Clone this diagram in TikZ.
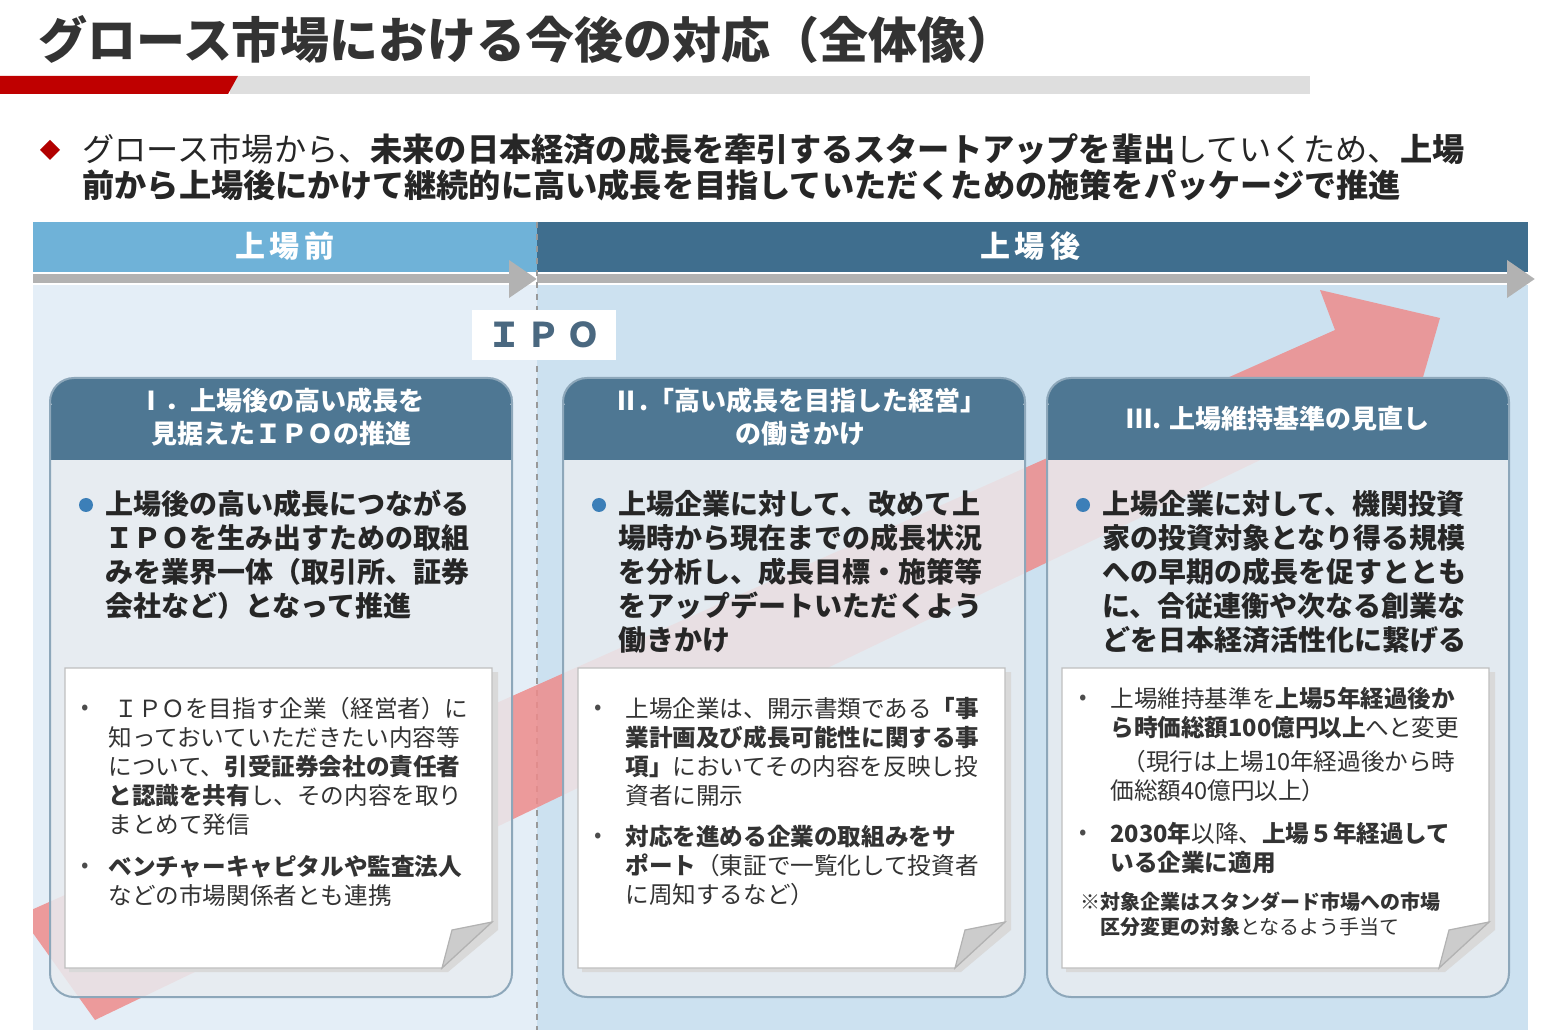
\documentclass[tikz,border=0pt]{standalone}
\usepackage{fontspec}
\setmainfont{Noto Sans CJK JP}
\usetikzlibrary{arrows.meta}
\definecolor{hdrL}{HTML}{6FB2D8}
\definecolor{hdrR}{HTML}{3F6E8E}
\definecolor{bgL}{HTML}{E4EEF7}
\definecolor{bgR}{HTML}{CCE1F0}
\definecolor{cardH}{HTML}{4E7793}
\definecolor{cardB}{HTML}{E8ECF0}
\definecolor{cardE}{HTML}{8DA7BA}
\definecolor{redA}{HTML}{EE8C8C}
\definecolor{titleC}{HTML}{333333}
\definecolor{ipoC}{HTML}{4A6880}
\definecolor{bulC}{HTML}{3C7FB8}
\tikzset{
 txt/.style={anchor=north west,inner sep=0pt,align=left,text=black!85},
 cardtxt/.style={txt,font=\fontsize{14pt}{17pt}\selectfont\bfseries},
 notetxt/.style={txt,font=\fontsize{11.8pt}{14.5pt}\selectfont,text=black!80},
 headtxt/.style={text=white,font=\fontsize{13pt}{16.5pt}\selectfont\bfseries,align=center},
 note/.style={fill=white,draw=black!25,line width=0.6pt},
 fold/.style={fill=black!20,draw=black!30,line width=0.6pt},
 dot/.style={circle,fill=bulC,inner sep=0pt,minimum size=7pt},
}
\begin{document}
\begin{tikzpicture}[x=0.5pt,y=-0.5pt]
\useasboundingbox (0,0) rectangle (1562,1036);
\fill[white] (0,0) rectangle (1562,1036);
% title
\node[anchor=west,inner sep=0pt,text=titleC,font=\fontsize{24.5pt}{26pt}\selectfont\bfseries] (title) at (38,40) {グロース市場における今後の対応（全体像）};
\fill[black!13] (230,76) rectangle (1310,94);
\fill[red!75!black] (0,76) -- (238,76) -- (228,94) -- (0,94) -- cycle;
% subtitle
\fill[red!70!black] (40,150) -- (50,140) -- (60,150) -- (50,160) -- cycle;
\node[txt,font=\fontsize{16.1pt}{18pt}\selectfont,text=black!85] (sub) at (82,133) {グロース市場から、\textbf{未来の日本経済の成長を牽引するスタートアップを輩出}していくため、\textbf{上場}\\\textbf{前から上場後にかけて継続的に高い成長を目指していただくための施策をパッケージで推進}};
% background
\fill[bgL] (33,285) rectangle (537,1030);
\fill[bgR] (537,285) rectangle (1528,1030);
\fill[hdrL] (33,222) rectangle (537,272);
\fill[hdrR] (537,222) rectangle (1528,272);
\node[text=white,font=\fontsize{15pt}{16pt}\selectfont\bfseries] (pre) at (285,246) {上\,場\,前};
\node[text=white,font=\fontsize{15pt}{16pt}\selectfont\bfseries] (post) at (1030,246) {上\,場\,後};
\coordinate (a0) at (33,279);
\coordinate (a1) at (537,279);
\coordinate (a2) at (1535,279);
\draw[black!30,line width=4.5pt,-{Triangle[length=14pt,width=18pt]}] (a0) -- (a1);
\draw[black!30,line width=4.5pt,-{Triangle[length=14pt,width=18pt]}] (a1) -- (a2);
\draw[black!40,dashed,line width=1pt] (537,222) -- (537,1030);
% red arrow
\begin{scope}
\clip (33,285) rectangle (1528,1030);
\fill[redA,opacity=0.85] (95,1020) -- (20,915) -- (1335,330) -- (1320,290) -- (1440,318) -- (1405,440) -- (1385,400) -- cycle;
\end{scope}
% IPO
\node[fill=white,minimum width=72pt,minimum height=25pt,text=ipoC,font=\fontsize{17pt}{18pt}\selectfont\bfseries] (ipo) at (544,335) {Ｉ\,Ｐ\,Ｏ};
% cards
\foreach \x in {50,563,1047}{
 \fill[cardB,opacity=0.85,rounded corners=12pt] (\x,378) rectangle (\x+462,997);
 \fill[cardH,rounded corners=12pt] (\x,378) rectangle (\x+462,420);
 \fill[cardH] (\x,405) rectangle (\x+462,460);
 \draw[cardE,line width=1pt,rounded corners=12pt] (\x,378) rectangle (\x+462,997);
 \fill[black!15] (\x+19,672) -- (\x+448,672) -- (\x+448,930) -- (\x+398,972) -- (\x+19,972) -- cycle;
 \draw[note] (\x+15,668) -- (\x+442,668) -- (\x+442,922) -- (\x+392,968) -- (\x+15,968) -- cycle;
 \draw[fold] (\x+392,968) -- (\x+402,930) -- (\x+442,922) -- cycle;
}
\node[headtxt] (h1) at (281,417) {Ⅰ．上場後の高い成長を\\見据えたＩＰＯの推進};
\node[headtxt] (h2) at (800,417) {Ⅱ.「高い成長を目指した経営」\\の働きかけ};
\node[headtxt] (h3) at (1278,419) {Ⅲ. 上場維持基準の見直し};
% card bullets
\node[dot] at (86,505) {};
\node[dot] at (599,505) {};
\node[dot] at (1083,505) {};
\node[cardtxt] (c1) at (105,490) {上場後の高い成長につながる\\ＩＰＯを生み出すための取組\\みを業界一体（取引所、証券\\会社など）となって推進};
\node[cardtxt] (c2) at (618,490) {上場企業に対して、改めて上\\場時から現在までの成長状況\\を分析し、成長目標・施策等\\をアップデートいただくよう\\働きかけ};
\node[cardtxt] (c3) at (1102,490) {上場企業に対して、機関投資\\家の投資対象となり得る規模\\への早期の成長を促すととも\\に、合従連衡や次なる創業な\\どを日本経済活性化に繋げる};
% notes
\foreach \x/\y in {85/710,85/868,598/710,598/838,1083/700,1083/835}{\node[font=\fontsize{11pt}{12pt}\selectfont,text=black!70] at (\x,\y) {•};}
\node[notetxt] (n1) at (108,697) {\hspace{3pt}ＩＰＯを目指す企業（経営者）に\\知っておいていただきたい内容等\\について、\textbf{引受証券会社の責任者}\\\textbf{と認識を共有}し、その内容を取り\\まとめて発信};
\node[notetxt] (n1b) at (108,855) {\textbf{ベンチャーキャピタルや監査法人}\\などの市場関係者とも連携};
\node[notetxt] (n2) at (625,697) {上場企業は、開示書類である\textbf{「事}\\\textbf{業計画及び成長可能性に関する事}\\\textbf{項」}においてその内容を反映し投\\資者に開示};
\node[notetxt] (n2b) at (625,825) {\textbf{対応を進める企業の取組みをサ}\\\textbf{ポート}（東証で一覧化して投資者\\に周知するなど）};
\node[notetxt] (n3) at (1110,687) {上場維持基準を\textbf{上場5年経過後か}\\\textbf{ら時価総額100億円以上}へと変更};
\node[notetxt] (n3a) at (1110,750) {\hspace{6pt}（現行は上場10年経過後から時\\価総額40億円以上）};
\node[notetxt] (n3b) at (1110,822) {\textbf{2030年}以降、\textbf{上場５年経過して}\\\textbf{いる企業に適用}};
\node[txt,font=\fontsize{10pt}{12.5pt}\selectfont,text=black!80] (n3c) at (1080,892) {※\textbf{対象企業はスタンダード市場への市場}\\\hspace{10pt}\textbf{区分変更の対象}となるよう手当て};
\end{tikzpicture}
\end{document}
